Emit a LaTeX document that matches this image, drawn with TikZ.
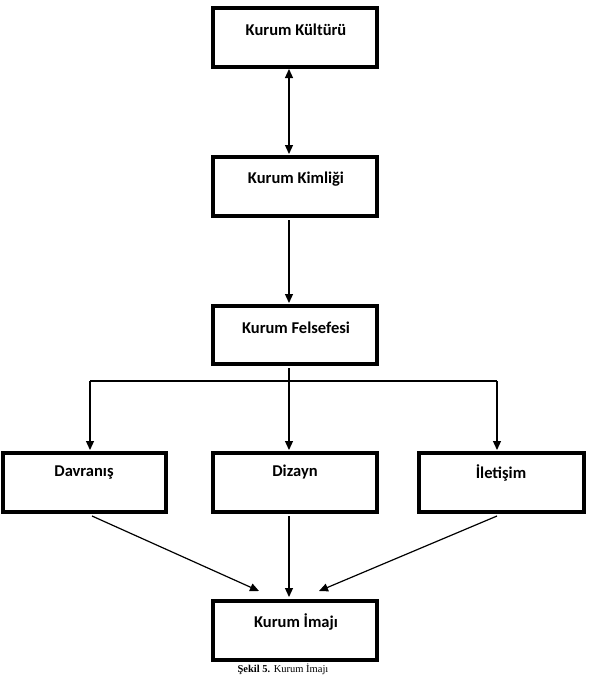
\documentclass[tikz,border=0pt]{standalone}
\usepackage{fontspec}
\setmainfont{Carlito}
\newfontfamily\capfont{Liberation Serif}
\usetikzlibrary{arrows.meta}
\begin{document}
\begin{tikzpicture}[x=1pt,y=-1pt,
  boxst/.style={draw, line width=3.2pt, inner sep=0pt},
  lbl/.style={font=\fontsize{16.5}{19}\selectfont\bfseries, anchor=center},
  arr/.style={line width=1.2pt, -{Triangle[width=8pt,length=9pt]}},
  darr/.style={line width=1.2pt, {Triangle[width=8pt,length=9pt]}-{Triangle[width=8pt,length=9pt]}}]
\useasboundingbox (0,0) rectangle (591,675);
% boxes
\draw[boxst] (213,8) rectangle (377,67);
\node[lbl] (kk) at (296,30) {Kurum Kültürü};
\coordinate (kkb) at (289,69);
\draw[boxst] (213,157) rectangle (377,216);
\node[lbl] (kki) at (296,179) {Kurum Kimliği};
\coordinate (kkit) at (289,154);
\coordinate (kkib) at (289,220);
\draw[boxst] (213,306) rectangle (377,364);
\node[lbl] (kf) at (296,328) {Kurum Felsefesi};
\coordinate (kft) at (289,303);
\coordinate (kfb) at (289,368);
\draw[boxst] (3,453) rectangle (166,512);
\node[lbl] (dv) at (84,473) {Davranış};
\coordinate (dvt) at (90,450);
\coordinate (dvb) at (92,516);
\draw[boxst] (213,453) rectangle (377,512);
\node[lbl] (dz) at (295,472) {Dizayn};
\coordinate (dzt) at (289,450);
\coordinate (dzb) at (289,516);
\draw[boxst] (419,453) rectangle (584,512);
\node[lbl] (il) at (501,473) {İletişim};
\coordinate (ilt) at (497,450);
\coordinate (ilb) at (497,516);
\draw[boxst] (213,601) rectangle (377,660);
\node[lbl] (ki) at (296,622) {Kurum İmajı};
\coordinate (kit) at (289,597);
\coordinate (kil) at (259,591);
\coordinate (kir) at (319,591);
% connectors
\draw[darr] (kkb) -- (kkit);
\draw[arr] (kkib) -- (kft);
\draw[arr] (kfb) -- (dzt);
\coordinate (hl) at (90,381);
\coordinate (hr) at (497,381);
\draw[line width=1.2pt] (hl) -- (hr);
\draw[arr] (hl) -- (dvt);
\draw[arr] (hr) -- (ilt);
\draw[arr] (dvb) -- (kil);
\draw[arr] (dzb) -- (kit);
\draw[arr] (ilb) -- (kir);
% caption
\node[anchor=base, inner sep=0pt, font=\capfont\fontsize{10.5}{12}\selectfont] (cap) at (283,672.5) {\textbf{Şekil 5.} Kurum İmajı};
\end{tikzpicture}
\end{document}
